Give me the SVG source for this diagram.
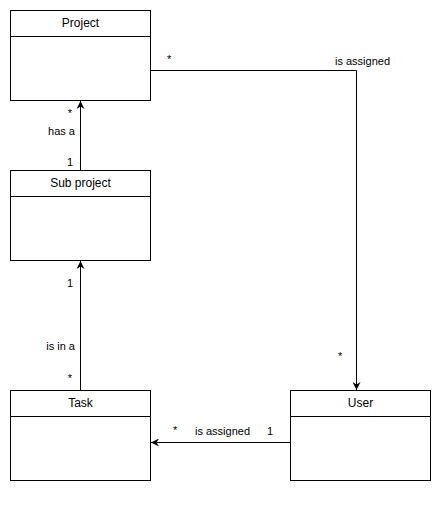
<svg xmlns="http://www.w3.org/2000/svg" width="441" height="505" viewBox="0 0 441 505">
  <style>
    .box { fill: #ffffff; stroke: #000000; stroke-width: 1; }
    .div { stroke: #000000; stroke-width: 1; fill: none; }
    .title { font-family: "Liberation Sans", Arial, sans-serif; font-size: 12px; fill: #000000; text-anchor: middle; }
    .lbl { font-family: "Liberation Sans", Arial, sans-serif; font-size: 11px; fill: #000000; }
    .edge { stroke: #000000; stroke-width: 1; fill: none; }
  </style>
  <defs>
    <marker id="arrow" viewBox="0 0 10 10" refX="10" refY="5" markerWidth="8" markerHeight="8" markerUnits="userSpaceOnUse" orient="auto">
      <path d="M0,0 L10,5 L0,10 L3,5 Z" fill="#000000"/>
    </marker>
  </defs>
  <rect width="441" height="505" fill="#ffffff"/>

  <g id="project">
    <rect class="box" x="10.5" y="10.5" width="140" height="90"/>
    <line class="div" x1="10.5" y1="36.5" x2="150.5" y2="36.5"/>
    <text class="title" x="80.5" y="27">Project</text>
  </g>

  <g id="subproject">
    <rect class="box" x="10.5" y="170.5" width="140" height="90"/>
    <line class="div" x1="10.5" y1="196.5" x2="150.5" y2="196.5"/>
    <text class="title" x="80.5" y="187">Sub project</text>
  </g>

  <g id="task">
    <rect class="box" x="10.5" y="390.5" width="140" height="90"/>
    <line class="div" x1="10.5" y1="416.5" x2="150.5" y2="416.5"/>
    <text class="title" x="80.5" y="407">Task</text>
  </g>

  <g id="user">
    <rect class="box" x="290.5" y="390.5" width="140" height="90"/>
    <line class="div" x1="290.5" y1="416.5" x2="430.5" y2="416.5"/>
    <text class="title" x="360.5" y="407">User</text>
  </g>

  <g id="connectors">
    <!-- Sub project -> Project -->
    <path class="edge" d="M80.5,170.5 L80.5,101" marker-end="url(#arrow)"/>
    <text class="lbl" x="72" y="117" text-anchor="end">*</text>
    <text class="lbl" x="75" y="135" text-anchor="end">has a</text>
    <text class="lbl" x="73" y="166" text-anchor="end">1</text>

    <!-- Task -> Sub project -->
    <path class="edge" d="M80.5,390.5 L80.5,261" marker-end="url(#arrow)"/>
    <text class="lbl" x="73" y="287" text-anchor="end">1</text>
    <text class="lbl" x="75" y="350" text-anchor="end">is in a</text>
    <text class="lbl" x="72" y="382" text-anchor="end">*</text>

    <!-- Project -> User -->
    <path class="edge" d="M150.5,70.5 L356.5,70.5 L356.5,390" marker-end="url(#arrow)"/>
    <text class="lbl" x="167" y="63">*</text>
    <text class="lbl" x="335" y="65">is assigned</text>
    <text class="lbl" x="338" y="360">*</text>

    <!-- User -> Task -->
    <path class="edge" d="M290.5,442.5 L151,442.5" marker-end="url(#arrow)"/>
    <text class="lbl" x="173" y="434">*</text>
    <text class="lbl" x="195" y="435">is assigned</text>
    <text class="lbl" x="267" y="435">1</text>
  </g>
</svg>
